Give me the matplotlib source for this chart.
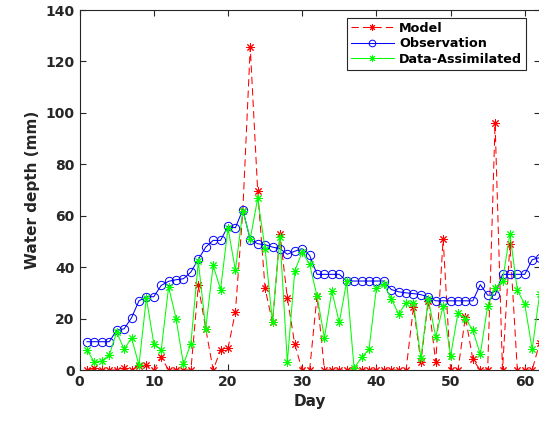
import numpy as np
import matplotlib
matplotlib.use("Agg")
import matplotlib.pyplot as plt

# daily values, days 1..62
days = np.arange(1, 63)
model = [0, 0.6, 0, 0, 0, 0.6, 0, 1.6, 1.9, 0, 4.9, 0,
         0, 0, 0, 32.9, 16.1, 0, 7.8, 8.4, 22.6, 62.0, 125.5, 69.8,
         31.7, 18.5, 53.0, 28, 10, 0, 0, 28.8, 0, 0, 0, 0,
         0, 0, 0, 0, 0, 0, 0, 0, 24.5, 3.2, 27, 3.1,
         51.0, 0, 0, 20.7, 4.1, 0, 0, 96.0, 0, 49, 0, 0, 0, 10.5]
observation = [11, 11, 11, 11, 15.5, 16, 20.3, 26.9, 28.5, 28.5, 32.9, 34.5,
               35.1, 35.5, 38.1, 43, 47.8, 50.4, 50.4, 55.9, 55.3, 62.4, 50.6, 49.1,
               48.7, 47.8, 47.2, 45, 46.2, 47.2, 44.6, 37.2, 37.2, 37.2, 37.2, 34.6,
               34.6, 34.6, 34.6, 34.6, 34.6, 31.3, 30.4, 30, 29.7, 29.3, 28.4, 26.9,
               26.9, 26.9, 26.9, 26.9, 26.9, 33.2, 29.1, 29.1, 37.2, 37.2, 37.2, 37.2, 42.9, 43.7]
assimilated = [7.8, 3.0, 3.6, 5.8, 14.8, 8.0, 12.5, 1.9, 28.0, 10.3, 7.8, 32.3,
               20.0, 2.2, 10.3, 42.2, 16.1, 40.7, 31.3, 55.2, 38.8, 62.0, 51.0, 66.7,
               47.2, 18.5, 51.9, 3.0, 38.5, 45.9, 41.1, 28.8, 12.5, 30.7, 18.5, 34.5,
               0.6, 4.9, 8.0, 31.7, 33.3, 27.8, 21.7, 26.2, 26.0, 4.5, 27.5, 12.9,
               24.9, 5.5, 22.2, 20.0, 15.5, 6.1, 24.9, 32.0, 34.6, 53.0, 31.0, 25.6, 8.0, 29.5]

plt.rcParams['font.family'] = ['DejaVu Sans']
plt.rcParams['font.weight'] = 'bold'

fig = plt.figure(figsize=(5.39, 4.24), dpi=100)
ax = fig.add_axes([79.6/539, 54/424, 460/539, 360/424])

star = (8, 2, 0)
ax.plot(days, model, color='red', linestyle=(0, (7, 4)), linewidth=0.75,
        marker=star, markersize=6, markeredgewidth=0.7, label='Model')
ax.plot(days, observation, color='blue', linewidth=0.75, marker='o',
        markersize=6, markerfacecolor='none', markeredgewidth=0.7, label='Observation')
ax.plot(days, assimilated, color='#00ff00', linewidth=0.75, marker=star,
        markersize=6, markeredgewidth=0.7, label='Data-Assimilated')

ax.set_xlim(0, 62)
ax.set_ylim(0, 140)
ax.set_xticks(range(0, 61, 10))
ax.set_yticks(range(0, 141, 20))
ax.tick_params(direction='in', top=True, right=True, length=4, width=0.8,
               color='#262626', labelcolor='#262626', labelsize=10)
for lab in ax.get_xticklabels() + ax.get_yticklabels():
    lab.set_fontweight('bold')
for s in ax.spines.values():
    s.set_color('#262626')
    s.set_linewidth(0.8)

ax.set_xlabel('Day', fontsize=11, fontweight='bold', color='#262626')
ax.set_ylabel('Water depth (mm)', fontsize=11, fontweight='bold', color='#262626')

leg = ax.legend(loc='upper right', bbox_to_anchor=(0.9705, 0.978), borderaxespad=0,
                fancybox=False, framealpha=1, edgecolor='#262626', handlelength=3.4,
                labelspacing=0.2, borderpad=0.3, handletextpad=0.4, markerscale=0.8,
                prop={'weight': 'bold', 'size': 9.2})
leg.get_frame().set_linewidth(0.8)

fig.savefig('out.png', dpi=100)
